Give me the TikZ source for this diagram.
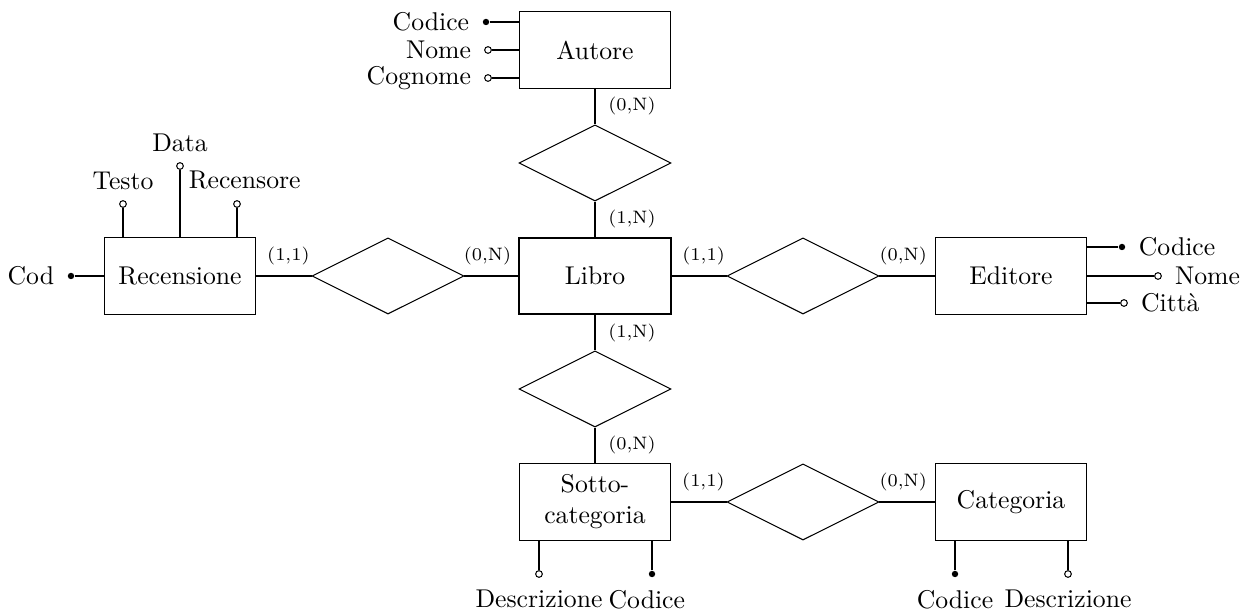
\documentclass[tikz,border=0pt]{standalone}
\usetikzlibrary{shapes.geometric}
\begin{document}
\begin{tikzpicture}[x=0.3891pt,y=-0.3891pt,
  ent/.style={draw, rectangle, minimum width=59.1pt, minimum height=29.6pt, inner sep=0pt, align=center},
  rel/.style={draw, diamond, minimum width=59.1pt, minimum height=29.6pt, inner sep=0pt, aspect=2},
  card/.style={font=\scriptsize, inner sep=0pt},
  kat/.style={circle, fill=black, inner sep=0pt, minimum size=2.5pt},
  oat/.style={circle, draw, fill=white, inner sep=0pt, minimum size=2.6pt},
  hlab/.style={label distance=1.6pt},
  vlab/.style={label distance=0.6pt},
  blab/.style={label distance=1.2pt}
]
\useasboundingbox (0,0) rectangle (1250,610);

% entities and relationships
\node[ent] (aut) at (595,50) {Autore};
\node[rel] (dA) at (595,163) {};
\node[ent, line width=0.8pt] (lib) at (595,276) {Libro};
\node[rel] (dS) at (595,389) {};
\node[ent] (sot) at (595,502) {Sotto-\\categoria};
\node[rel] (dR) at (388,276) {};
\node[ent] (rec) at (180,276) {Recensione};
\node[rel] (dE) at (803,276) {};
\node[ent] (edi) at (1011,276) {Editore};
\node[rel] (dC) at (803,502) {};
\node[ent] (cat) at (1011,502) {Categoria};

% connectors with cardinalities
\draw (aut) -- node[card, midway, right=5pt] {(0,N)} (dA);
\draw (dA) -- node[card, midway, right=5pt] {(1,N)} (lib);
\draw (lib) -- node[card, midway, right=5pt] {(1,N)} (dS);
\draw (dS) -- node[card, midway, right=5pt] {(0,N)} (sot);
\draw (rec) -- node[card, pos=0.58, above=3.9pt] {(1,1)} (dR);
\draw (dR) -- node[card, pos=0.43, above=3.9pt] {(0,N)} (lib);
\draw (lib) -- node[card, pos=0.58, above=3.9pt] {(1,1)} (dE);
\draw (dE) -- node[card, pos=0.43, above=3.9pt] {(0,N)} (edi);
\draw (sot) -- node[card, pos=0.58, above=3.9pt] {(1,1)} (dC);
\draw (dC) -- node[card, pos=0.43, above=3.9pt] {(0,N)} (cat);

% Autore attributes
\node[kat, label={[hlab]left:Codice}] (aCod) at (486,22) {};
\node[oat, label={[hlab]left:Nome}] (aNom) at (488,50) {};
\node[oat, label={[hlab]left:Cognome}] (aCog) at (488,78) {};
\draw (aCod) -- (aCod -| aut.west);
\draw (aNom) -- (aNom -| aut.west);
\draw (aCog) -- (aCog -| aut.west);

% Recensione attributes
\node[kat, label={[hlab]left:Cod}] (rCod) at (71,276) {};
\draw (rCod) -- (rec);
\node[oat, label={[vlab]above:Testo}] (rTes) at (123,204) {};
\node[oat, label={[vlab]above:Data}] (rDat) at (180,166) {};
\node[oat, label={[vlab, xshift=3pt]above:Recensore}] (rRec) at (237,204) {};
\draw (rTes) -- (rTes |- rec.north);
\draw (rDat) -- (rDat |- rec.north);
\draw (rRec) -- (rRec |- rec.north);

% Editore attributes
\node[kat, label={[hlab]right:Codice}] (eCod) at (1122,247) {};
\node[oat, label={[hlab]right:Nome}] (eNom) at (1158,276) {};
\node[oat, label={[hlab]right:Città}] (eCit) at (1124,303) {};
\draw (eCod) -- (eCod -| edi.east);
\draw (eNom) -- (eNom -| edi.east);
\draw (eCit) -- (eCit -| edi.east);

% Sottocategoria attributes
\node[oat, label={[blab]below:Descrizione}] (sDes) at (539,574) {};
\node[kat, label={[blab, xshift=-2pt]below:Codice}] (sCod) at (652,574) {};
\draw (sDes) -- (sDes |- sot.south);
\draw (sCod) -- (sCod |- sot.south);

% Categoria attributes
\node[kat, label={[blab]below:Codice}] (cCod) at (955,574) {};
\node[oat, label={[blab]below:Descrizione}] (cDes) at (1068,574) {};
\draw (cCod) -- (cCod |- cat.south);
\draw (cDes) -- (cDes |- cat.south);
\end{tikzpicture}
\end{document}
